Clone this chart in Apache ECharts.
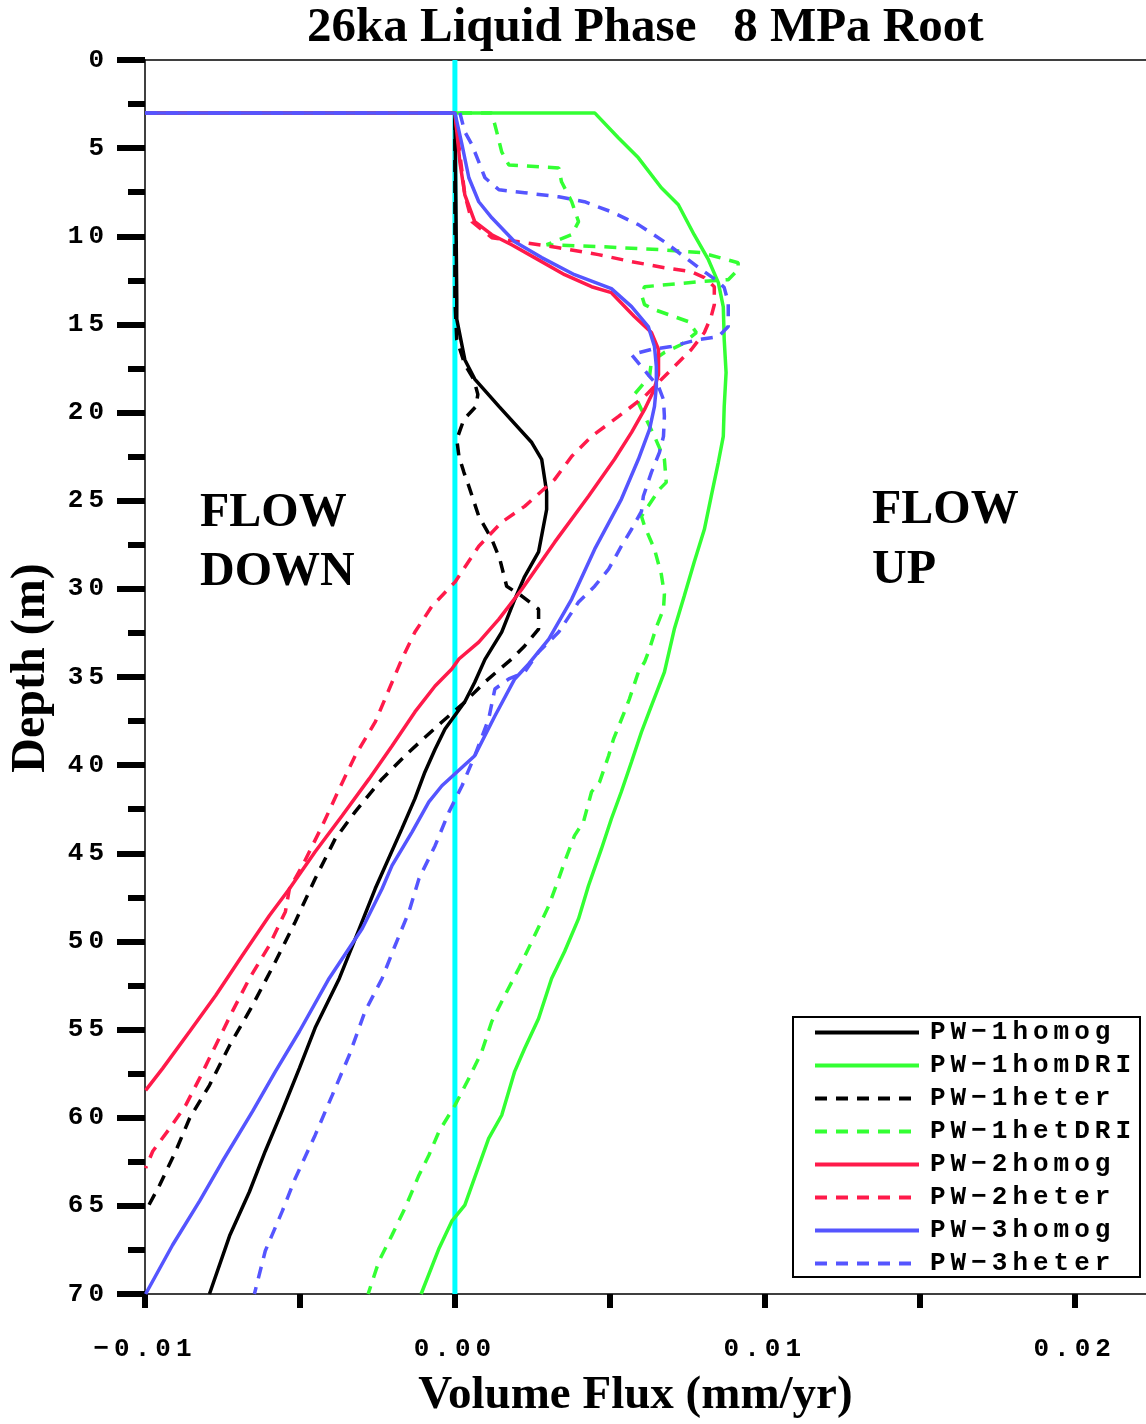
<!DOCTYPE html>
<html>
<head>
<meta charset="utf-8">
<script src="https://cdn.jsdelivr.net/npm/echarts@6/dist/echarts.min.js"></script>
<style>html,body{margin:0;padding:0;background:#fff}#chart{width:1146px;height:1424px}</style>
</head>
<body>
<div id="chart"></div>
<script>
// Wide monospaced lettering like the reference (applies only to Liberation Mono text)
(function(){
  var P = CanvasRenderingContext2D.prototype;
  if (!('letterSpacing' in P)) return;
  var ft = P.fillText, mt = P.measureText;
  function sp(ctx){ return /Liberation Mono/.test(ctx.font) ? '5px' : '0px'; }
  P.fillText = function(t,x,y,w){ var o=this.letterSpacing; this.letterSpacing=sp(this);
    var r = (w===undefined) ? ft.call(this,t,x,y) : ft.call(this,t,x,y,w); this.letterSpacing=o; return r; };
  P.measureText = function(t){ var o=this.letterSpacing; this.letterSpacing=sp(this);
    var r = mt.call(this,t); this.letterSpacing=o; return r; };
})();

// ---- data: [volume flux (mm/yr), depth (m)] ----
var pw1homog = [[-0.01,3],[0,3],[0.00003,7.9],[0.00006,13.6],[0.00006,14.7],[0.00032,17.0],[0.00064,18.1],[0.00142,19.65],[0.00248,21.7],[0.0028,22.65],[0.00296,24.5],[0.00296,25.5],[0.0027,27.9],[0.00225,29.3],[0.00193,30.6],[0.00151,32.45],[0.00097,34.0],[0.00064,35.3],[0.00032,36.4],[-0.00032,37.95],[-0.00064,39.1],[-0.00097,40.4],[-0.00129,41.9],[-0.00171,43.6],[-0.00257,47.0],[-0.00309,49.3],[-0.00373,52.1],[-0.00451,54.9],[-0.00502,57.2],[-0.00557,59.6],[-0.00612,61.9],[-0.00663,64.2],[-0.00727,66.7],[-0.00792,70]];
var pw1homDRI = [[-0.01,3],[0.00451,3],[0.00528,4.42],[0.00592,5.55],[0.00666,7.25],[0.00721,8.21],[0.00772,9.91],[0.00818,11.33],[0.0085,12.63],[0.00866,14.0],[0.00869,15.86],[0.00875,17.73],[0.00869,19.65],[0.00866,21.35],[0.0085,22.82],[0.00827,24.75],[0.00805,26.62],[0.00772,28.49],[0.0074,30.41],[0.00708,32.28],[0.00676,34.72],[0.00634,36.64],[0.00602,38.12],[0.0057,39.81],[0.00537,41.51],[0.00505,43.04],[0.00473,44.74],[0.00431,46.84],[0.00399,48.71],[0.00354,50.57],[0.00312,52.1],[0.0027,54.37],[0.00225,56.07],[0.00193,57.37],[0.00151,59.86],[0.00109,61.17],[0.00032,64.96],[-0.0001,65.87],[-0.00051,67.4],[-0.00109,70]];
var pw1heter = [[-0.01,3],[0,3],[0,13.6],[0.00006,15.86],[0.00032,17.27],[0.00061,18.12],[0.00074,18.97],[0.00068,19.65],[0.00029,20.39],[0.00006,21.52],[0.00013,22.48],[0.00029,23.39],[0.00045,24.18],[0.00077,25.88],[0.00119,27.18],[0.00145,28.32],[0.00167,29.85],[0.00216,30.41],[0.0027,31.15],[0.0027,32.28],[0.00225,33.24],[0.00183,33.98],[0.00097,35.28],[0.00032,36.42],[-0.00042,37.55],[-0.00148,39.25],[-0.00235,40.78],[-0.00322,42.65],[-0.00386,44.17],[-0.00451,46.44],[-0.00515,48.88],[-0.00579,51.14],[-0.00653,53.63],[-0.00727,55.9],[-0.00792,58.16],[-0.00856,60.03],[-0.00901,61.9],[-0.00953,63.83],[-0.00998,65.3]];
var pw1hetDRI = [[-0.01,3],[0.00119,3],[0.00135,4.08],[0.00151,5.21],[0.00174,5.95],[0.00335,6.12],[0.00344,6.91],[0.00377,8.04],[0.00399,9.17],[0.00377,9.91],[0.00296,10.48],[0.00473,10.59],[0.00666,10.76],[0.00795,10.93],[0.00914,11.5],[0.00914,11.89],[0.00882,12.46],[0.00795,12.57],[0.00612,12.86],[0.00602,13.31],[0.00612,13.88],[0.00644,14.16],[0.00753,14.84],[0.00779,15.46],[0.00731,16.14],[0.00676,16.59],[0.00634,17.1],[0.00628,17.95],[0.00579,18.97],[0.00602,19.82],[0.00644,21.35],[0.00676,22.65],[0.00682,23.96],[0.0066,24.35],[0.00602,25.88],[0.00612,26.45],[0.00644,27.75],[0.00666,29.17],[0.00676,30.3],[0.00673,31.15],[0.0065,32.17],[0.00628,33.41],[0.00612,34.15],[0.00592,34.72],[0.00563,36.25],[0.00547,36.98],[0.00512,38.51],[0.00496,39.47],[0.00467,40.95],[0.00441,41.51],[0.00415,43.21],[0.00386,44.0],[0.00354,45.48],[0.00335,46.44],[0.00303,47.97],[0.00248,50.01],[0.00206,51.54],[0.00161,53.07],[0.00119,54.54],[0.00087,56.24],[0.00045,57.77],[0,59.3],[-0.00051,60.77],[-0.00084,62.13],[-0.00116,63.26],[-0.00161,65.13],[-0.00203,66.66],[-0.00245,68.13],[-0.0028,70]];
var pw2homog = [[-0.01,3],[0,3],[0.00016,5.78],[0.00032,7.65],[0.00064,9.17],[0.00119,9.91],[0.00183,10.48],[0.00257,11.21],[0.00354,12.18],[0.00441,12.86],[0.00505,13.2],[0.00579,14.55],[0.00634,15.46],[0.00657,16.42],[0.00657,17.84],[0.0064,18.8],[0.00612,19.82],[0.0057,21.12],[0.00515,22.65],[0.00431,24.75],[0.00322,27.35],[0.00216,30.02],[0.00142,31.72],[0.00077,33.02],[0.00013,33.98],[-0.0001,34.55],[-0.00064,35.51],[-0.00129,36.98],[-0.00203,38.91],[-0.00277,40.78],[-0.00364,42.87],[-0.00451,44.91],[-0.00534,47.01],[-0.00599,48.54],[-0.00686,50.8],[-0.00772,53.07],[-0.00856,55.11],[-0.00943,57.2],[-0.00998,58.45]];
var pw2heter = [[-0.01,3],[0,3],[0.00023,6.34],[0.00032,7.65],[0.00055,9.17],[0.00119,10.08],[0.00206,10.31],[0.00335,10.65],[0.00463,11.04],[0.0057,11.44],[0.00676,11.78],[0.00763,12.01],[0.00805,12.35],[0.00837,12.86],[0.00837,13.88],[0.00827,14.55],[0.00805,15.46],[0.00763,16.42],[0.00708,17.39],[0.00666,18.12],[0.00612,19.09],[0.00528,20.22],[0.00441,21.35],[0.00377,22.48],[0.00322,23.79],[0.00225,25.32],[0.00151,26.22],[0.00077,27.58],[0,29.62],[-0.00074,30.98],[-0.00129,32.45],[-0.00171,33.98],[-0.00212,35.68],[-0.00257,37.55],[-0.00322,39.47],[-0.00373,41.34],[-0.00428,43.44],[-0.00492,45.7],[-0.00534,47.01],[-0.00547,48.31],[-0.00599,50.23],[-0.00663,52.1],[-0.00718,53.97],[-0.00772,55.9],[-0.00824,57.77],[-0.00869,59.3],[-0.0092,60.6],[-0.00975,61.9],[-0.00998,62.86]];
var pw3homog = [[-0.01,3],[0,3],[0.00023,4.81],[0.00045,6.68],[0.00077,8.04],[0.00119,8.95],[0.00193,10.31],[0.0028,11.21],[0.00386,12.18],[0.00505,12.97],[0.0057,13.99],[0.00624,15.12],[0.00644,16.25],[0.0065,17.39],[0.0065,18.52],[0.00644,19.65],[0.00628,20.95],[0.00592,22.65],[0.00537,24.92],[0.00451,27.75],[0.00377,30.58],[0.00303,32.85],[0.00238,34.26],[0.00193,35.11],[0.00129,37.21],[0.00064,39.47],[-0.00042,41.17],[-0.00084,42.08],[-0.00138,43.78],[-0.00203,45.7],[-0.00235,47.01],[-0.00299,49.27],[-0.00406,52.1],[-0.00502,55.11],[-0.00579,57.37],[-0.00653,59.64],[-0.0075,62.47],[-0.00824,64.73],[-0.00911,67.22],[-0.00998,70]];
var pw3heter = [[-0.01,3],[0.00016,3],[0.00032,4.08],[0.00055,4.81],[0.00077,5.78],[0.00097,6.68],[0.00142,7.36],[0.00225,7.53],[0.00335,7.76],[0.00418,8.04],[0.00505,8.61],[0.00592,9.34],[0.00676,10.31],[0.0074,11.16],[0.00795,11.89],[0.0085,12.57],[0.00869,12.91],[0.00882,13.76],[0.00882,15.12],[0.0085,15.69],[0.00785,15.86],[0.00698,16.25],[0.00634,16.42],[0.0057,16.71],[0.00602,17.39],[0.00628,17.95],[0.00657,18.52],[0.00673,19.26],[0.00676,20.22],[0.00673,21.35],[0.0066,22.26],[0.00634,23.39],[0.00608,24.75],[0.00602,25.6],[0.0057,26.62],[0.00537,27.58],[0.00496,28.88],[0.00451,29.85],[0.00399,30.75],[0.00335,32.45],[0.0027,33.58],[0.00225,34.72],[0.00174,35.11],[0.00129,35.68],[0.00109,37.38],[0.00064,39.47],[0.00023,41.17],[-0.00019,42.65],[-0.00064,44.57],[-0.00116,46.44],[-0.00148,48.31],[-0.00193,50.23],[-0.00235,52.1],[-0.0029,53.97],[-0.00341,56.46],[-0.00396,58.73],[-0.00451,60.99],[-0.00515,63.43],[-0.00557,65.3],[-0.00612,67.56],[-0.00647,70]];
var zeroLine = [[0,0],[0,70]];

var seriesNames = ['PW-1homog','PW-1homDRI','PW-1heter','PW-1hetDRI','PW-2homog','PW-2heter','PW-3homog','PW-3heter'];
var seriesData  = [pw1homog, pw1homDRI, pw1heter, pw1hetDRI, pw2homog, pw2heter, pw3homog, pw3heter];
var xTickValues  = [-0.01,-0.005,0,0.005,0.01,0.015,0.02];
var xLabelValues = [-0.01,0,0.01,0.02];

var colors = ['#000000','#33ff33','#000000','#33ff33','#ff1a4a','#ff1a4a','#5555ff','#5555ff'];
var dashed = [false,false,true,true,false,true,false,true];
var DASH = [12,9];
var MONO = 'Liberation Mono';
var SERIF = 'Liberation Serif';

var series = [{
  type:'line', name:'zero', data: zeroLine, showSymbol:false, symbol:'none', z:1, silent:true,
  lineStyle:{color:'#00ffff', width:5}
}];
seriesNames.forEach(function(n,i){
  series.push({
    type:'line', name:n, data:seriesData[i], symbol:'none', showSymbol:false, z:2+i,
    color: colors[i],
    lineStyle:{color:colors[i], width:3.5, type: dashed[i] ? DASH : 'solid'}
  });
});

var chart = echarts.init(document.getElementById('chart'), null, {renderer:'canvas'});
chart.setOption({
  animation:false,
  backgroundColor:'#fff',
  title:{
    text:'26ka Liquid Phase   8 MPa Root', left:307, top:4, padding:0,
    textStyle:{fontFamily:SERIF, fontWeight:'bold', fontSize:49, color:'#000'}
  },
  grid:{left:143, top:60, right:0, bottom:128, containLabel:false},
  xAxis:[{
    type:'value', min:-0.01, max:0.0223, interval:0.005, position:'bottom',
    name:'Volume Flux (mm/yr)', nameLocation:'middle', nameGap:78,
    nameTextStyle:{fontFamily:SERIF, fontWeight:'bold', fontSize:47, color:'#000', padding:[0,20,0,0]},
    axisLine:{show:true, onZero:false, lineStyle:{color:'#000', width:1.5}},
    axisTick:{show:true, length:14, customValues:xTickValues, lineStyle:{color:'#000', width:6}},
    axisLabel:{show:true, customValues:xLabelValues, margin:40,
      fontFamily:MONO, fontWeight:'bold', fontSize:26, color:'#000',
      formatter:function(v){ if (Math.abs(v*100 - Math.round(v*100))>1e-6) return ''; return (v<0?'\u2212':'') + Math.abs(v).toFixed(2); }},
    splitLine:{show:false}
  },{
    type:'value', min:-0.01, max:0.0223, position:'top',
    axisLine:{show:true, onZero:false, lineStyle:{color:'#000', width:1.5}},
    axisTick:{show:false}, axisLabel:{show:false}, splitLine:{show:false}
  }],
  yAxis:{
    type:'value', inverse:true, min:0, max:70, interval:5,
    name:'Depth (m)', nameLocation:'middle', nameGap:89, nameRotate:90,
    nameTextStyle:{fontFamily:SERIF, fontWeight:'bold', fontSize:48, color:'#000', padding:[0,0,0,18]},
    axisLine:{show:true, onZero:false, lineStyle:{color:'#000', width:1.5}},
    axisTick:{show:true, length:28, lineStyle:{color:'#000', width:6}},
    minorTick:{show:true, splitNumber:2, length:17, lineStyle:{color:'#000', width:6}},
    axisLabel:{margin:36, fontFamily:MONO, fontWeight:'bold', fontSize:26, color:'#000'},
    splitLine:{show:false}, minorSplitLine:{show:false}
  },
  legend:{
    data:seriesNames, orient:'vertical', left:813, top:1017, padding:0,
    itemWidth:104, itemHeight:14, itemGap:2, selectedMode:false,
    itemStyle:{opacity:0, color:'rgba(0,0,0,0)', borderColor:'rgba(0,0,0,0)', borderWidth:0},
    lineStyle:{width:4},
    formatter:function(n){ return n.replace('-', '\u2212'); },
    textStyle:{fontFamily:MONO, fontWeight:'bold', fontSize:26, color:'#000', padding:[0,0,0,6]}
  },
  graphic:[
    {type:'rect', z:3, shape:{x:793, y:1017, width:347, height:260}, style:{fill:'#fff', stroke:'#000', lineWidth:2}},
    {type:'text', x:200, y:514, style:{text:'FLOW', font:'bold 48px "Liberation Serif"', fill:'#000', align:'left', verticalAlign:'middle'}},
    {type:'text', x:200, y:573, style:{text:'DOWN', font:'bold 48px "Liberation Serif"', fill:'#000', align:'left', verticalAlign:'middle'}},
    {type:'text', x:872, y:511, style:{text:'FLOW', font:'bold 48px "Liberation Serif"', fill:'#000', align:'left', verticalAlign:'middle'}},
    {type:'text', x:872, y:571, style:{text:'UP', font:'bold 48px "Liberation Serif"', fill:'#000', align:'left', verticalAlign:'middle'}}
  ],
  series:series
});
</script>
</body>
</html>
